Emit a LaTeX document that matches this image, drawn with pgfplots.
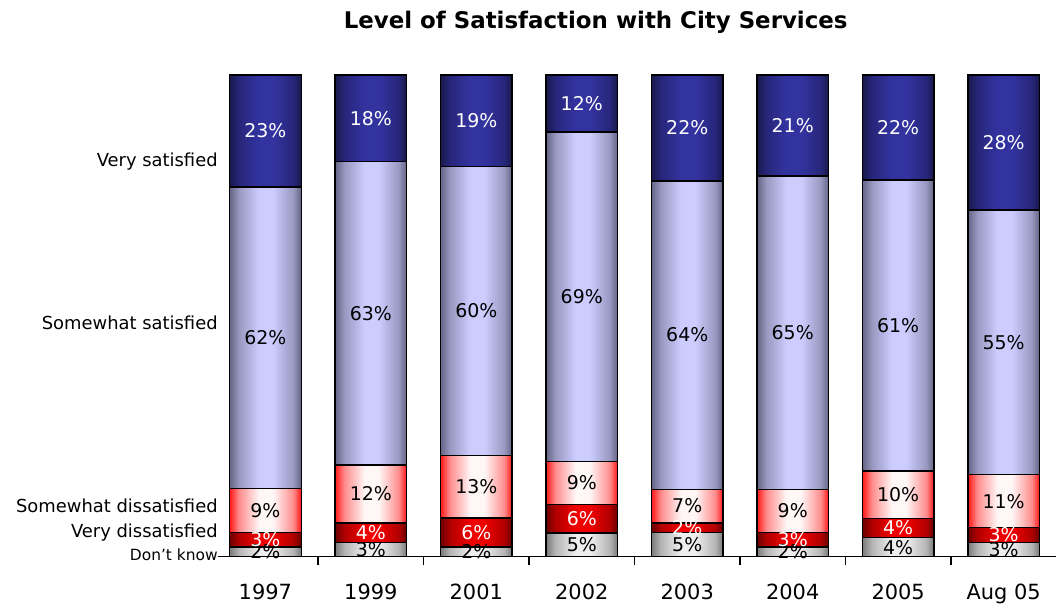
\documentclass[border=0pt]{standalone}
\usepackage{fontspec}
\setmainfont{DejaVu Sans}
\usepackage{pgfplots}
\usepackage{pgfplotstable}
\pgfplotsset{compat=1.18}

\definecolor{navyE}{HTML}{1A1A4E}
\definecolor{navyQ}{HTML}{26267A}
\definecolor{navyM}{HTML}{3333A0}
\definecolor{lavE}{HTML}{68688A}
\definecolor{lavQ}{HTML}{9898C0}
\definecolor{lavM}{HTML}{CCCCFF}
\definecolor{redE}{HTML}{FF2020}
\definecolor{redQ}{HTML}{FF8C8C}
\definecolor{redM}{HTML}{FFF6F6}
\definecolor{dredE}{HTML}{700000}
\definecolor{dredQ}{HTML}{B00000}
\definecolor{dredM}{HTML}{F00000}
\definecolor{grayE}{HTML}{7E7E7E}
\definecolor{grayQ}{HTML}{B4B4B4}
\definecolor{grayM}{HTML}{EEEEEE}

% one horizontal shading that repeats the cylinder gradient once per bar
\newcommand\mkshade[4]{%
  \gdef\spec{color(0bp)=(#2); color(25bp)=(#2)}%
  \foreach \i in {0,...,7}{%
    \pgfmathsetmacro\sa{25+6.5104*\i+0.05}%
    \pgfmathsetmacro\sb{\sa+0.12*4.4271}%
    \pgfmathsetmacro\sc{\sa+0.40*4.4271}%
    \pgfmathsetmacro\sd{\sa+0.60*4.4271}%
    \pgfmathsetmacro\se{\sa+0.88*4.4271}%
    \pgfmathsetmacro\sf{\sa+4.4271-0.1}%
    \xdef\spec{\spec; color(\sa bp)=(#2); color(\sb bp)=(#3); color(\sc bp)=(#4); color(\sd bp)=(#4); color(\se bp)=(#3); color(\sf bp)=(#2)}%
  }%
  \edef\temp{\noexpand\pgfdeclarehorizontalshading{#1}{100bp}{\spec; color(75.5bp)=(#2); color(100bp)=(#2)}}%
  \temp
}
\mkshade{navybars}{navyE}{navyQ}{navyM}
\mkshade{lavbars}{lavE}{lavQ}{lavM}
\mkshade{redbars}{redE}{redQ}{redM}
\mkshade{dredbars}{dredE}{dredQ}{dredM}
\mkshade{graybars}{grayE}{grayQ}{grayM}

% heights normalised so that every bar reaches 100; labels are the printed values
\pgfplotstableread{
x  dk    vd    sd    ss    vs
0  2.02  3.03  9.09  62.63 23.23
1  3     4     12    63    18
2  2     6     13    60    19
3  4.95  5.94  8.91  68.32 11.88
4  5     2     7     64    22
5  2     3     9     65    21
6  3.96  3.96  9.90  60.40 21.78
7  3     3     11    55    28
}\data
% label positions (middle of each segment) and printed values
\pgfplotstableread{
x  dk     dkl vd    vdl sd     sdl ss     ssl vs     vsl
0  1.01   2   3.535 3   9.595  9   45.455 62  88.385 23
1  1.5    3   5     4   13     12  50.5   63  91     18
2  1      2   5     6   14.5   13  51     60  90.5   19
3  2.475  5   7.92  6   15.345 9   53.96  69  94.06  12
4  2.5    5   6     2   10.5   7   46     64  89     22
5  1      2   3.5   3   9.5    9   46.5   65  89.5   21
6  1.98   4   5.94  4   12.87  10  48.02  61  89.11  22
7  1.5    3   4.5   3   11.5   11  44.5   55  86     28
}\labels

\begin{document}
\begin{tikzpicture}
\begin{axis}[
  name=ax,
  scale only axis, width=839bp, height=482bp,
  xmin=-0.45, xmax=7.5, ymin=0, ymax=100,
  ybar stacked, bar width=0.68,
  clip=false,
  axis x line=bottom, axis y line=none,
  x axis line style={-, line width=1.2pt},
  xtick={0,...,7},
  xticklabels={1997,1999,2001,2002,2003,2004,2005,Aug 05},
  major tick length=0pt,
  minor xtick={0.5,1.5,...,6.5},
  minor tick length=8bp,
  tick align=outside,
  minor x tick style={line width=1.2pt, black},
  xticklabel style={font=\fontsize{21}{21}\selectfont, yshift=-24bp},
  every axis plot/.append style={draw=black, line width=1.4pt},
]
\addplot[shade, shading=graybars]  table[x=x, y=dk] {\data};
\addplot[shade, shading=dredbars]  table[x=x, y=vd] {\data};
\addplot[shade, shading=redbars]   table[x=x, y=sd] {\data};
\addplot[shade, shading=lavbars]   table[x=x, y=ss] {\data};
\addplot[shade, shading=navybars]  table[x=x, y=vs] {\data};
\end{axis}

\begin{axis}[
  at={(ax.south west)}, anchor=south west,
  scale only axis, width=839bp, height=482bp,
  xmin=-0.45, xmax=7.5, ymin=0, ymax=100,
  hide axis, clip=false,
  point meta=explicit symbolic,
  nodes near coords={\pgfplotspointmeta\%},
  every node near coord/.append style={anchor=center, inner sep=0pt,
     font=\fontsize{19}{19}\selectfont},
]
\addplot[draw=none, mark=none, nodes near coords style={text=black}]
  table[x=x, y=dk, meta=dkl] {\labels};
\addplot[draw=none, mark=none, nodes near coords style={text=white}]
  table[x=x, y=vd, meta=vdl] {\labels};
\addplot[draw=none, mark=none, nodes near coords style={text=black}]
  table[x=x, y=sd, meta=sdl] {\labels};
\addplot[draw=none, mark=none, nodes near coords style={text=black}]
  table[x=x, y=ss, meta=ssl] {\labels};
\addplot[draw=none, mark=none, nodes near coords style={text=white}]
  table[x=x, y=vs, meta=vsl] {\labels};
\end{axis}

\node[font=\bfseries\fontsize{23}{24}\selectfont] at ([xshift=378bp,yshift=535bp]ax.south west) {Level of Satisfaction with City Services};
\begin{scope}[every node/.style={anchor=base east, inner sep=0pt, font=\fontsize{18}{18}\selectfont}]
\node at ([xshift=0bp,yshift=390bp]ax.south west) {Very satisfied};
\node at ([xshift=0bp,yshift=227bp]ax.south west) {Somewhat satisfied};
\node at ([xshift=0bp,yshift=44bp]ax.south west) {Somewhat dissatisfied};
\node at ([xshift=0bp,yshift=19bp]ax.south west) {Very dissatisfied};
\node[font=\fontsize{15.5}{16}\selectfont] at ([xshift=0bp,yshift=-4bp]ax.south west) {Don’t know};
\end{scope}
\path ([xshift=-218bp,yshift=-49bp]ax.south west) rectangle ([xshift=839bp,yshift=557bp]ax.south west);
\end{tikzpicture}
\end{document}
